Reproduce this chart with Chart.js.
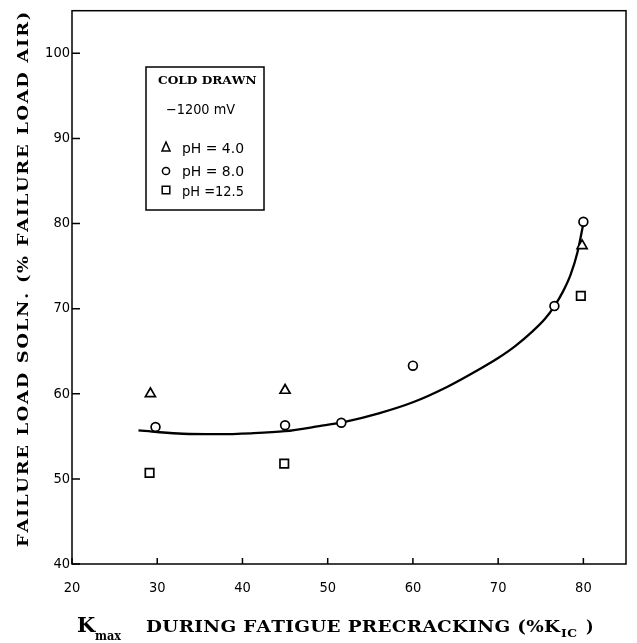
<!DOCTYPE html>
<html>
<head>
<meta charset="utf-8">
<script src="https://cdn.jsdelivr.net/npm/chart.js@4.4.1/dist/chart.umd.min.js"></script>
<style>
  html, body { margin: 0; padding: 0; background: #fff; }
  canvas { display: block; }
</style>
</head>
<body>
<canvas id="chart" width="637" height="643"></canvas>
<script>
// fitted curve
const curveX = [27.8, 30, 33, 37, 41, 45, 49, 52, 56, 60, 64, 68, 70, 72, 74, 75.5, 76.6, 77.6, 78.5, 79.3, 80.0];
const curveY = [55.7, 55.5, 55.3, 55.25, 55.35, 55.6, 56.2, 56.7, 57.7, 59.0, 60.8, 63.0, 64.2, 65.6, 67.3, 68.8, 70.3, 72.0, 74.0, 76.6, 80.0];

// measured points
const ph4X = [29.2, 45.0, 79.85];
const ph4Y = [60.0, 60.4, 77.4];
const ph8X = [29.8, 45.0, 51.6, 60.0, 76.6, 80.0];
const ph8Y = [56.1, 56.3, 56.6, 63.3, 70.3, 80.2];
const ph125X = [29.1, 44.9, 79.7];
const ph125Y = [50.7, 51.8, 71.5];

const legendLabels = ['pH = 4.0', 'pH = 8.0', 'pH =12.5'];
const xTicks = [20, 30, 40, 50, 60, 70, 80];
const yTicks = [40, 50, 60, 70, 80, 90, 100];

const pts = (xs, ys) => xs.map((x, i) => ({ x: x, y: ys[i] }));

// draw text to a given width: widen the letters a bit, then space them
function fitText(ctx, str, x, y, width, maxStretch) {
  const natural = ctx.measureText(str).width;
  const k = Math.min(width / natural, maxStretch || 1.12);
  const extra = str.length > 1 ? (width - natural * k) / (str.length - 1) : 0;
  ctx.save();
  ctx.translate(x, y);
  ctx.scale(k, 1);
  let cx = 0;
  for (const ch of str) {
    ctx.fillText(ch, cx, 0);
    cx += ctx.measureText(ch).width + extra / k;
  }
  ctx.restore();
}

function symbol(ctx, style, x, y) {
  ctx.beginPath();
  if (style === 'triangle') {
    ctx.moveTo(x, y - 5);
    ctx.lineTo(x + 4, y + 4);
    ctx.lineTo(x - 4, y + 4);
    ctx.closePath();
  } else if (style === 'circle') {
    ctx.arc(x, y, 3.6, 0, Math.PI * 2);
  } else {
    ctx.rect(x - 3.8, y - 3.8, 7.6, 7.6);
  }
  ctx.stroke();
}

const framePlugin = {
  id: 'frame',
  afterDraw(chart) {
    const ctx = chart.ctx;
    const a = chart.chartArea;
    const xs = chart.scales.x, ys = chart.scales.y;
    ctx.save();
    ctx.strokeStyle = '#000';
    ctx.fillStyle = '#000';
    ctx.lineWidth = 1.5;
    ctx.strokeRect(a.left, a.top, a.right - a.left, a.bottom - a.top);

    // inward tick marks
    ctx.beginPath();
    xTicks.forEach(v => {
      const px = xs.getPixelForValue(v);
      ctx.moveTo(px, a.bottom);
      ctx.lineTo(px, a.bottom - 6);
    });
    yTicks.forEach(v => {
      const py = ys.getPixelForValue(v);
      ctx.moveTo(a.left, py);
      ctx.lineTo(a.left + 8, py);
    });
    ctx.stroke();

    // y axis title
    ctx.save();
    ctx.translate(28, 547);
    ctx.rotate(-Math.PI / 2);
    ctx.font = 'bold 15.5px "DejaVu Serif"';
    ctx.textBaseline = 'alphabetic';
    fitText(ctx, 'FAILURE LOAD SOLN. (% FAILURE LOAD AIR)', 0, 0, 530, 1.15);
    ctx.restore();

    // x axis title
    ctx.textBaseline = 'alphabetic';
    ctx.font = 'bold 21px "DejaVu Serif"';
    ctx.fillText('K', 77, 632);
    ctx.font = 'bold 12px "DejaVu Serif"';
    fitText(ctx, 'max', 95, 640, 26);
    ctx.font = 'bold 16px "DejaVu Serif"';
    fitText(ctx, 'DURING FATIGUE PRECRACKING (%K', 146, 632, 412, 1.15);
    ctx.font = 'bold 11px "DejaVu Serif"';
    fitText(ctx, 'IC', 561, 637, 16);
    ctx.font = 'bold 16px "DejaVu Serif"';
    ctx.fillText(')', 586, 632);

    // legend box
    ctx.lineWidth = 1.5;
    ctx.strokeRect(146, 67, 118, 143);
    ctx.font = 'bold 11px "DejaVu Serif"';
    fitText(ctx, 'COLD DRAWN', 158, 84, 98);
    ctx.font = '14px "DejaVu Sans Condensed"';
    fitText(ctx, '\u22121200 mV', 166, 114, 69);
    const rows = [[147, 153, 'triangle'], [171, 176, 'circle'], [190, 196, 'rect']];
    ctx.lineWidth = 1.5;
    rows.forEach((r, i) => {
      symbol(ctx, r[2], 166, r[0]);
      ctx.font = '14.5px "DejaVu Sans Condensed"';
      fitText(ctx, legendLabels[i], 182, r[1], 62);
    });
    ctx.restore();
  }
};

const tickFont = { family: '"DejaVu Sans Condensed"', size: 14.5 };

new Chart(document.getElementById('chart'), {
  type: 'scatter',
  data: {
    datasets: [
      {
        label: 'fit',
        data: pts(curveX, curveY),
        showLine: true,
        borderColor: '#000',
        borderWidth: 2.3,
        pointRadius: 0,
        cubicInterpolationMode: 'monotone',
        order: 5
      },
      {
        label: legendLabels[0],
        data: pts(ph4X, ph4Y),
        pointStyle: 'triangle',
        pointRadius: 5.8,
        borderColor: '#000',
        backgroundColor: '#fff',
        borderWidth: 1.7,
        order: 1
      },
      {
        label: legendLabels[1],
        data: pts(ph8X, ph8Y),
        pointStyle: 'circle',
        pointRadius: 4.4,
        borderColor: '#000',
        backgroundColor: '#fff',
        borderWidth: 1.7,
        order: 1
      },
      {
        label: legendLabels[2],
        data: pts(ph125X, ph125Y),
        pointStyle: 'rect',
        pointRadius: 6,
        borderColor: '#000',
        backgroundColor: '#fff',
        borderWidth: 1.7,
        order: 1
      }
    ]
  },
  options: {
    responsive: false,
    animation: false,
    layout: { padding: { top: 7, right: 11, left: 0, bottom: 0 } },
    plugins: { legend: { display: false }, tooltip: { enabled: false } },
    scales: {
      x: {
        type: 'linear',
        min: 20,
        max: 85,
        afterFit(s) { s.height = 79; },
        grid: { display: false, drawTicks: false },
        border: { display: false },
        ticks: {
          stepSize: 10,
          includeBounds: false,
          color: '#000',
          font: tickFont,
          padding: 16,
          maxRotation: 0,
          callback: v => (xTicks.includes(v) ? v : '')
        }
      },
      y: {
        type: 'linear',
        min: 40,
        max: 105,
        afterFit(s) { s.width = 72; },
        grid: { display: false, drawTicks: false },
        border: { display: false },
        ticks: {
          stepSize: 10,
          includeBounds: false,
          color: '#000',
          font: tickFont,
          padding: 2,
          callback: v => (yTicks.includes(v) ? v : '')
        }
      }
    }
  },
  plugins: [framePlugin]
});
</script>
</body>
</html>
